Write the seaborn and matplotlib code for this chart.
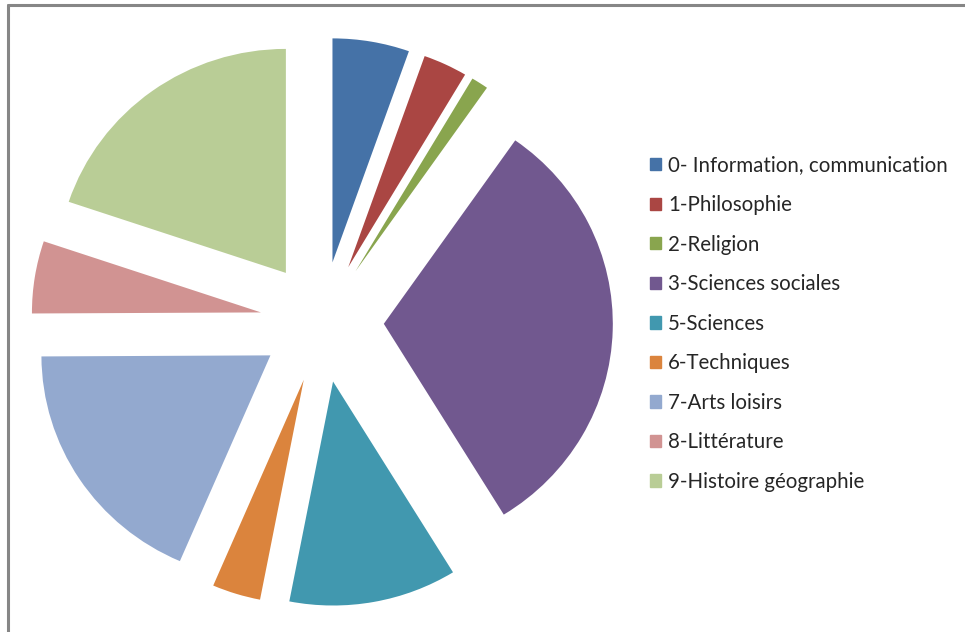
import matplotlib
matplotlib.use("Agg")
import matplotlib.pyplot as plt
import seaborn as sns
from matplotlib.lines import Line2D

# Data (percent shares)
categories = ["0- Information, communication", "1-Philosophie", "2-Religion",
              "3-Sciences sociales", "5-Sciences", "6-Techniques",
              "7-Arts loisirs", "8-Littérature", "9-Histoire géographie"]
values = [5.4, 3.1, 1.2, 31.4, 11.8, 3.4, 18.4, 5.2, 19.8]
colors = ["#4572A7", "#AA4643", "#89A54E", "#71588F", "#4198AF",
          "#DB843D", "#93A9CF", "#D19392", "#B9CD96"]

sns.set_style("white")
plt.rcParams['font.family'] = ['Lato', 'DejaVu Sans']

W, H = 965, 632
cx, cy = 322, 322
rx, ry = 229, 224   # the original is slightly wider than tall
fig = plt.figure(figsize=(W / 100, H / 100), dpi=100)
ax = fig.add_axes([0, 0, 1, 1])
ax.pie(values, colors=sns.color_palette(colors), startangle=90, counterclock=False,
       explode=[0.27] * len(values), radius=1,
       wedgeprops=dict(linewidth=0))
ax.set_aspect('auto')
ax.set_xlim(-cx / rx, (W - cx) / rx)
ax.set_ylim(-(H - cy) / ry, cy / ry)
ax.axis('off')

# chart frame (top and left edges visible)
fig.add_artist(Line2D([7.5 / W, 7.5 / W], [0, 1 - 4.5 / H], transform=fig.transFigure,
                      color="#868686", linewidth=2.2))
fig.add_artist(Line2D([7.5 / W, 1], [1 - 4.5 / H, 1 - 4.5 / H], transform=fig.transFigure,
                      color="#868686", linewidth=2.2))

handles = [plt.Rectangle((0, 0), 1, 1, color=c) for c in colors]
leg = fig.legend(handles, categories, loc='upper left',
                 bbox_to_anchor=(631 / W, 1 - 137 / H), frameon=False,
                 fontsize=14.8, handlelength=0.55, handleheight=0.55,
                 handletextpad=0.35, labelspacing=0.95, labelcolor="#262626")

fig.savefig("out.png", dpi=100, facecolor="white")
